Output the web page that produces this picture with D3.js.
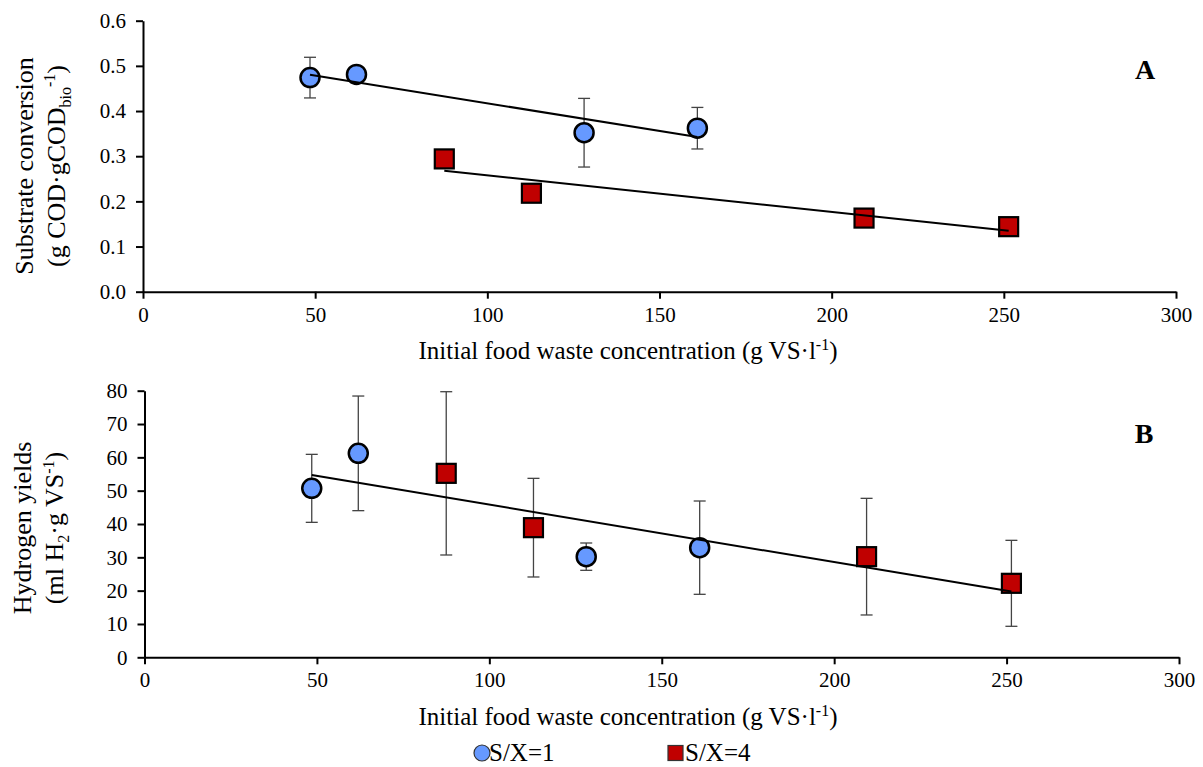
<!DOCTYPE html>
<html>
<head>
<meta charset="utf-8">
<script src="https://cdn.jsdelivr.net/npm/d3@7"></script>
<style>
  body { margin: 0; background: #fff; }
  svg { display: block; }
  text { font-family: "Liberation Serif", "Times New Roman", serif; fill: #000; }
</style>
</head>
<body>
<div id="chart"></div>
<script>
// x values: initial food waste concentration (g VS/l)
const concS1 = [48.5, 62.0, 128.1, 161.0];
const concS4 = [87.5, 112.8, 209.4, 251.4];

// panel A: substrate conversion
const convS1 = [0.474, 0.481, 0.352, 0.362];
const convS1Err = [0.045, 0.004, 0.076, 0.046];
const convS4 = [0.294, 0.218, 0.163, 0.144];
const convS4Err = [0.004, 0.004, 0.004, 0.010];

// panel B: hydrogen yields
const h2S1 = [50.7, 61.2, 30.2, 32.9];
const h2S1Err = [10.2, 17.2, 4.1, 14.0];
const h2S4 = [55.2, 38.9, 30.2, 22.2];
const h2S4Err = [24.5, 14.8, 17.5, 12.9];

const xTicks = [0, 50, 100, 150, 200, 250, 300];
const yTicksA = [0, 0.1, 0.2, 0.3, 0.4, 0.5, 0.6];
const yTicksB = [0, 10, 20, 30, 40, 50, 60, 70, 80];

const blue = "#6699ff";
const red = "#c00000";
const serif = "'Liberation Serif', 'Times New Roman', serif";

const width = 1203, height = 767;
const svg = d3.select("#chart").append("svg")
  .attr("width", width)
  .attr("height", height)
  .attr("font-family", serif);

// least squares line over the given points, drawn from min x to max x
function fit(xs, ys) {
  const mx = d3.mean(xs), my = d3.mean(ys);
  let sxy = 0, sxx = 0;
  xs.forEach((x, i) => { sxy += (x - mx) * (ys[i] - my); sxx += (x - mx) ** 2; });
  const b = sxy / sxx, a = my - b * mx;
  const x0 = d3.min(xs), x1 = d3.max(xs);
  return [[x0, a + b * x0], [x1, a + b * x1]];
}

function panel(cfg) {
  const { x, y, yTicks, yFormat, s1, s4, trends } = cfg;
  const g = svg.append("g");

  // x axis
  const xa = g.append("g")
    .attr("transform", `translate(0,${y(0)})`)
    .call(d3.axisBottom(x).tickValues(xTicks).tickSize(7).tickSizeOuter(0).tickPadding(8));
  // y axis
  const ya = g.append("g")
    .attr("transform", `translate(${x(0)},0)`)
    .call(d3.axisLeft(y).tickValues(yTicks).tickFormat(yFormat).tickSize(7).tickSizeOuter(0).tickPadding(10));
  [xa, ya].forEach(a => {
    a.attr("font-family", serif).attr("font-size", 21);
    a.select(".domain").attr("stroke", "#000").attr("stroke-width", 2);
    a.selectAll(".tick line").attr("stroke", "#000").attr("stroke-width", 2);
    a.selectAll(".tick text").attr("fill", "#000");
  });

  // error bars
  const errs = [];
  s1.xs.forEach((d, i) => errs.push({ x: d, y: s1.ys[i], e: s1.err[i] }));
  s4.xs.forEach((d, i) => errs.push({ x: d, y: s4.ys[i], e: s4.err[i] }));
  const eb = g.append("g").attr("stroke", "#444").attr("stroke-width", 1.3);
  errs.forEach(d => {
    eb.append("line").attr("x1", x(d.x)).attr("x2", x(d.x))
      .attr("y1", y(d.y + d.e)).attr("y2", y(d.y - d.e));
    [d.y + d.e, d.y - d.e].forEach(v => {
      eb.append("line").attr("x1", x(d.x) - 6).attr("x2", x(d.x) + 6)
        .attr("y1", y(v)).attr("y2", y(v));
    });
  });

  // markers
  g.append("g").selectAll("circle")
    .data(s1.xs.map((d, i) => [d, s1.ys[i]]))
    .enter().append("circle")
    .attr("cx", d => x(d[0])).attr("cy", d => y(d[1])).attr("r", 9.5)
    .attr("fill", blue).attr("stroke", "#000").attr("stroke-width", 2.5);
  g.append("g").selectAll("rect")
    .data(s4.xs.map((d, i) => [d, s4.ys[i]]))
    .enter().append("rect")
    .attr("x", d => x(d[0]) - 9.5).attr("y", d => y(d[1]) - 9.5)
    .attr("width", 19).attr("height", 19)
    .attr("fill", red).attr("stroke", "#000").attr("stroke-width", 2.2);

  // trend lines
  const line = d3.line().x(d => x(d[0])).y(d => y(d[1]));
  trends.forEach(t => {
    g.append("path").attr("d", line(t)).attr("fill", "none")
      .attr("stroke", "#000").attr("stroke-width", 2);
  });
  return g;
}

// panel A
const xA = d3.scaleLinear().domain([0, 300]).range([143, 1176]);
const yA = d3.scaleLinear().domain([0, 0.6]).range([291.7, 20.7]);
const gA = panel({
  x: xA, y: yA, yTicks: yTicksA, yFormat: d3.format(".1f"),
  s1: { xs: concS1, ys: convS1, err: convS1Err },
  s4: { xs: concS4, ys: convS4, err: convS4Err },
  trends: [fit(concS1, convS1), fit(concS4, convS4)]
});

// panel B
const xB = d3.scaleLinear().domain([0, 300]).range([144.5, 1179]);
const yB = d3.scaleLinear().domain([0, 80]).range([657.3, 390.7]);
const gB = panel({
  x: xB, y: yB, yTicks: yTicksB, yFormat: d3.format("d"),
  s1: { xs: concS1, ys: h2S1, err: h2S1Err },
  s4: { xs: concS4, ys: h2S4, err: h2S4Err },
  trends: [fit(concS1.concat(concS4), h2S1.concat(h2S4))]
});

// x axis titles
function xTitle(g, cx, cy) {
  const t = g.append("text").attr("x", cx).attr("y", cy)
    .attr("text-anchor", "middle").attr("font-size", 25);
  t.append("tspan").text("Initial food waste concentration (g VS\u00b7l");
  t.append("tspan").attr("dy", -9).attr("font-size", 16).text("-1");
  t.append("tspan").attr("dy", 9).text(")");
}
xTitle(gA, 628, 359);
xTitle(gB, 628, 725);

// y axis titles
function yTitle(g, cy, base, line1, parts) {
  const t = g.append("g").attr("transform", `translate(0,${cy}) rotate(-90)`);
  t.append("text").attr("x", 0).attr("y", base).attr("text-anchor", "middle")
    .attr("font-size", 26).text(line1);
  const t2 = t.append("text").attr("x", 0).attr("y", base + 32).attr("text-anchor", "middle")
    .attr("font-size", 26);
  parts.forEach(p => {
    const s = t2.append("tspan").text(p.t);
    if (p.dy) s.attr("dy", p.dy);
    if (p.small) s.attr("font-size", 16);
  });
}
yTitle(gA, 166, 33, "Substrate conversion", [
  { t: "(g COD\u00b7gCOD" },
  { t: "bio", dy: 6, small: true },
  { t: "-1", dy: -16, small: true },
  { t: ")", dy: 10 }
]);
yTitle(gB, 528, 31, "Hydrogen yields", [
  { t: "(ml H" },
  { t: "2", dy: 6, small: true },
  { t: "\u00b7g VS", dy: -6 },
  { t: "-1", dy: -9, small: true },
  { t: ")", dy: 9 }
]);

// panel letters
gA.append("text").attr("x", 1145).attr("y", 79).attr("text-anchor", "middle")
  .attr("font-size", 28).attr("font-weight", "bold").text("A");
gB.append("text").attr("x", 1144).attr("y", 443).attr("text-anchor", "middle")
  .attr("font-size", 28).attr("font-weight", "bold").text("B");

// legend
const leg = svg.append("g").attr("transform", "translate(0,753)");
leg.append("circle").attr("cx", 482).attr("cy", 0).attr("r", 8)
  .attr("fill", blue).attr("stroke", "#333").attr("stroke-width", 1.2);
leg.append("text").attr("x", 489).attr("y", 8).attr("font-size", 25).text("S/X=1");
leg.append("rect").attr("x", 668).attr("y", -7.5).attr("width", 15).attr("height", 15)
  .attr("fill", red).attr("stroke", "#333").attr("stroke-width", 1.2);
leg.append("text").attr("x", 685).attr("y", 8).attr("font-size", 25).text("S/X=4");
</script>
</body>
</html>
